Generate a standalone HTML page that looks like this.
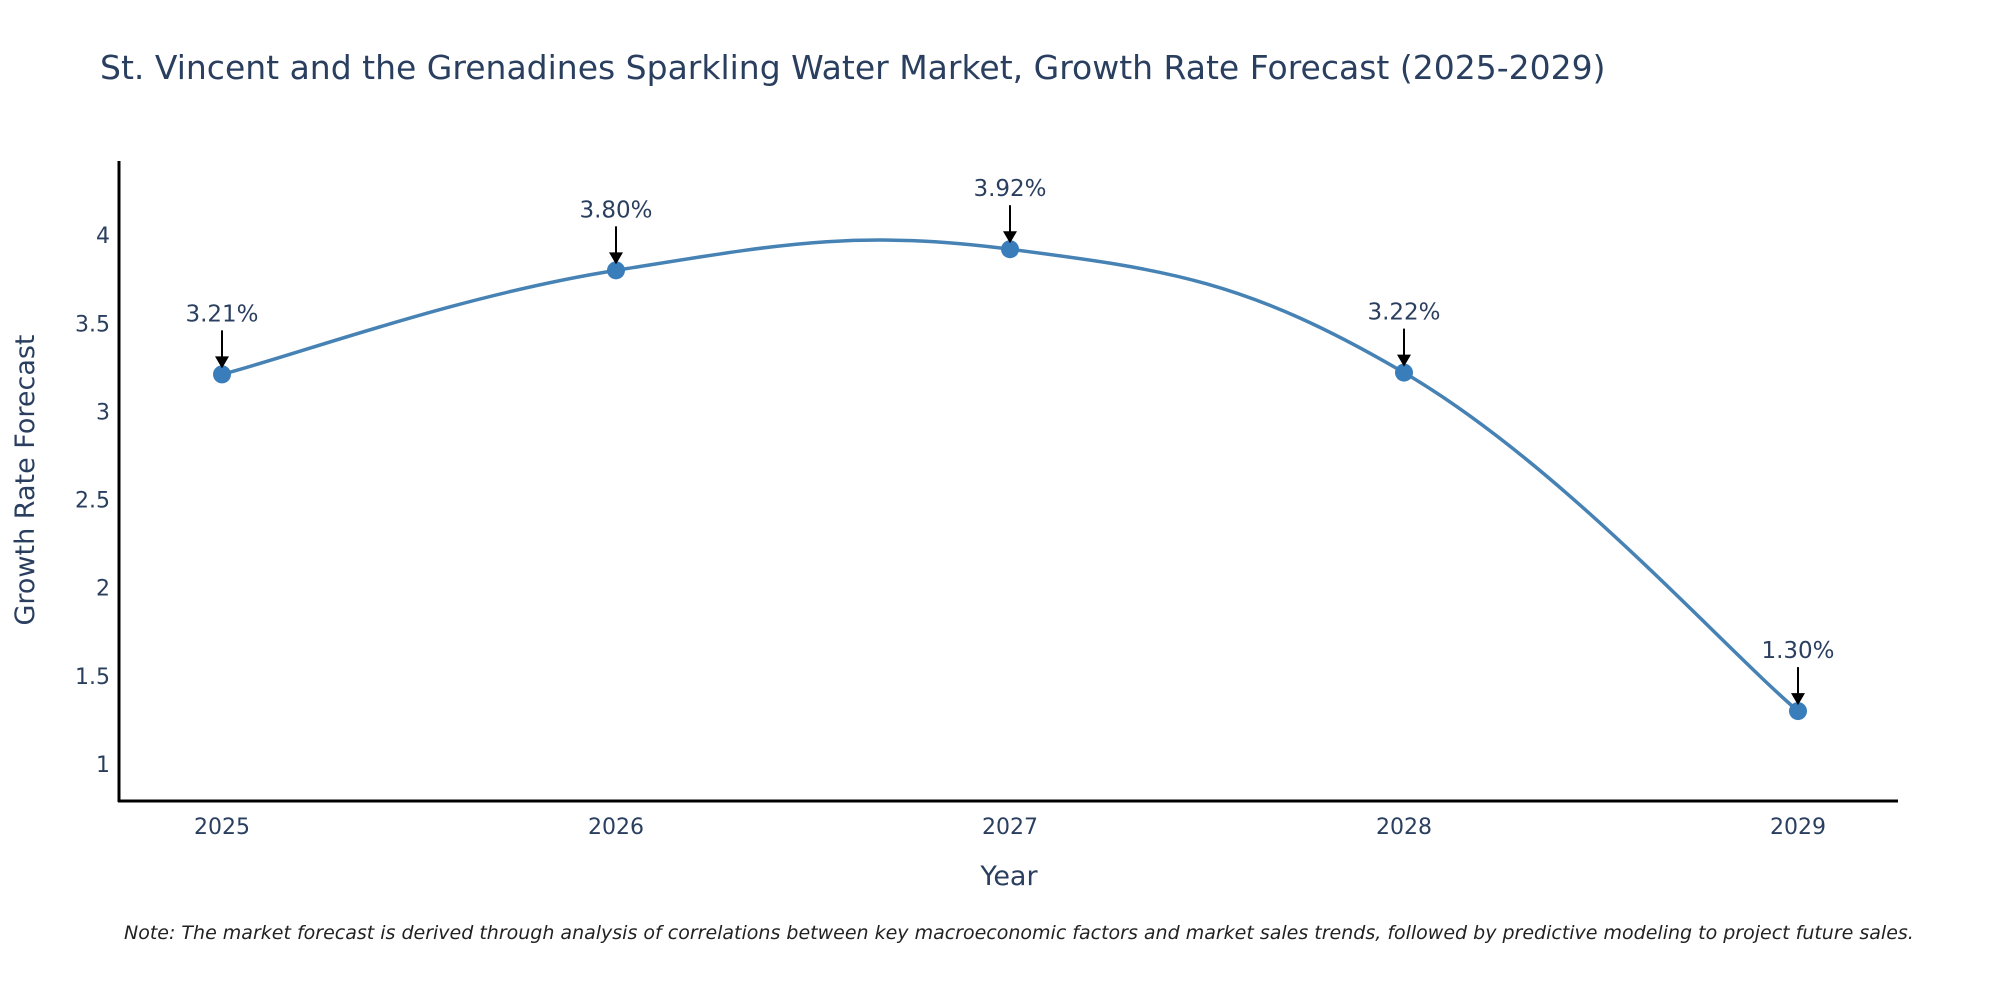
<!DOCTYPE html>
<html><head><meta charset="utf-8"><style>
body{margin:0;background:#fff;}
svg{display:block;font-family:"DejaVu Sans","Liberation Sans",sans-serif;}
</style></head><body>
<svg id="chart" width="2000" height="1000" xmlns="http://www.w3.org/2000/svg">
<text x="100" y="79" font-size="33" fill="#2a3f5f">St. Vincent and the Grenadines Sparkling Water Market, Growth Rate Forecast (2025-2029)</text>
<g id="yticks"></g>
<g id="xticks"></g>
<path id="line" fill="none" stroke="#4682b4" stroke-width="3.5"/>
<g id="marks"></g>
<line x1="119" y1="161" x2="119" y2="802" stroke="#000" stroke-width="3"/>
<line x1="118" y1="801" x2="1898" y2="801" stroke="#000" stroke-width="3"/>
<text transform="translate(34,480) rotate(-90)" text-anchor="middle" font-size="27" fill="#2a3f5f">Growth Rate Forecast</text>
<text x="1009" y="885" text-anchor="middle" font-size="27" fill="#2a3f5f">Year</text>
<text x="124" y="939" font-size="19" font-style="italic" fill="#222">Note: The market forecast is derived through analysis of correlations between key macroeconomic factors and market sales trends, followed by predictive modeling to project future sales.</text>
</svg>
<script>
const years = ["2025","2026","2027","2028","2029"];
const values = [3.21, 3.80, 3.92, 3.22, 1.30];
const labels = ["3.21%","3.80%","3.92%","3.22%","1.30%"];
const yTicks = [1,1.5,2,2.5,3,3.5,4];
const NS="http://www.w3.org/2000/svg";
const xs=i=>222+i*394;
const ys=v=>764-(v-1)*176.3;
function mk(tag,attrs,parent){const e=document.createElementNS(NS,tag);for(const k in attrs)e.setAttribute(k,attrs[k]);parent.appendChild(e);return e;}
const yt=document.getElementById('yticks');
yTicks.forEach(t=>{const e=mk('text',{x:110,y:ys(t)+8,'text-anchor':'end','font-size':22,fill:'#2a3f5f'},yt);


e.textContent=String(t);});
const xt=document.getElementById('xticks');
years.forEach((y,i)=>{const e=mk('text',{x:xs(i),y:834,'text-anchor':'middle','font-size':22,fill:'#2a3f5f'},xt);


e.textContent=y;});
const P=values.map((v,i)=>[xs(i),ys(v)]);
let d=`M${P[0][0]},${P[0][1]}`;
for(let i=0;i<P.length-1;i++){const p0=P[i-1]||P[i],p1=P[i],p2=P[i+1],p3=P[i+2]||P[i+1];const s=1/5;
d+=` C${p1[0]+(p2[0]-p0[0])*s},${p1[1]+(p2[1]-p0[1])*s} ${p2[0]-(p3[0]-p1[0])*s},${p2[1]-(p3[1]-p1[1])*s} ${p2[0]},${p2[1]}`;}
document.getElementById('line').setAttribute('d',d);
const g=document.getElementById('marks');
P.forEach((p,i)=>{
const c=mk('circle',{cx:p[0],cy:p[1],r:9,fill:'#3a7dbb'},g);


const l=mk('line',{x1:p[0],y1:p[1]-44,x2:p[0],y2:p[1]-16,stroke:'#000','stroke-width':2},g);


const h=mk('polygon',{points:`${p[0]-7},${p[1]-18} ${p[0]+7},${p[1]-18} ${p[0]},${p[1]-6}`,fill:'#000'},g);


const t=mk('text',{x:p[0],y:p[1]-53,'text-anchor':'middle','font-size':23,fill:'#2a3f5f'},g);


t.textContent=labels[i];});
</script>
</body></html>
